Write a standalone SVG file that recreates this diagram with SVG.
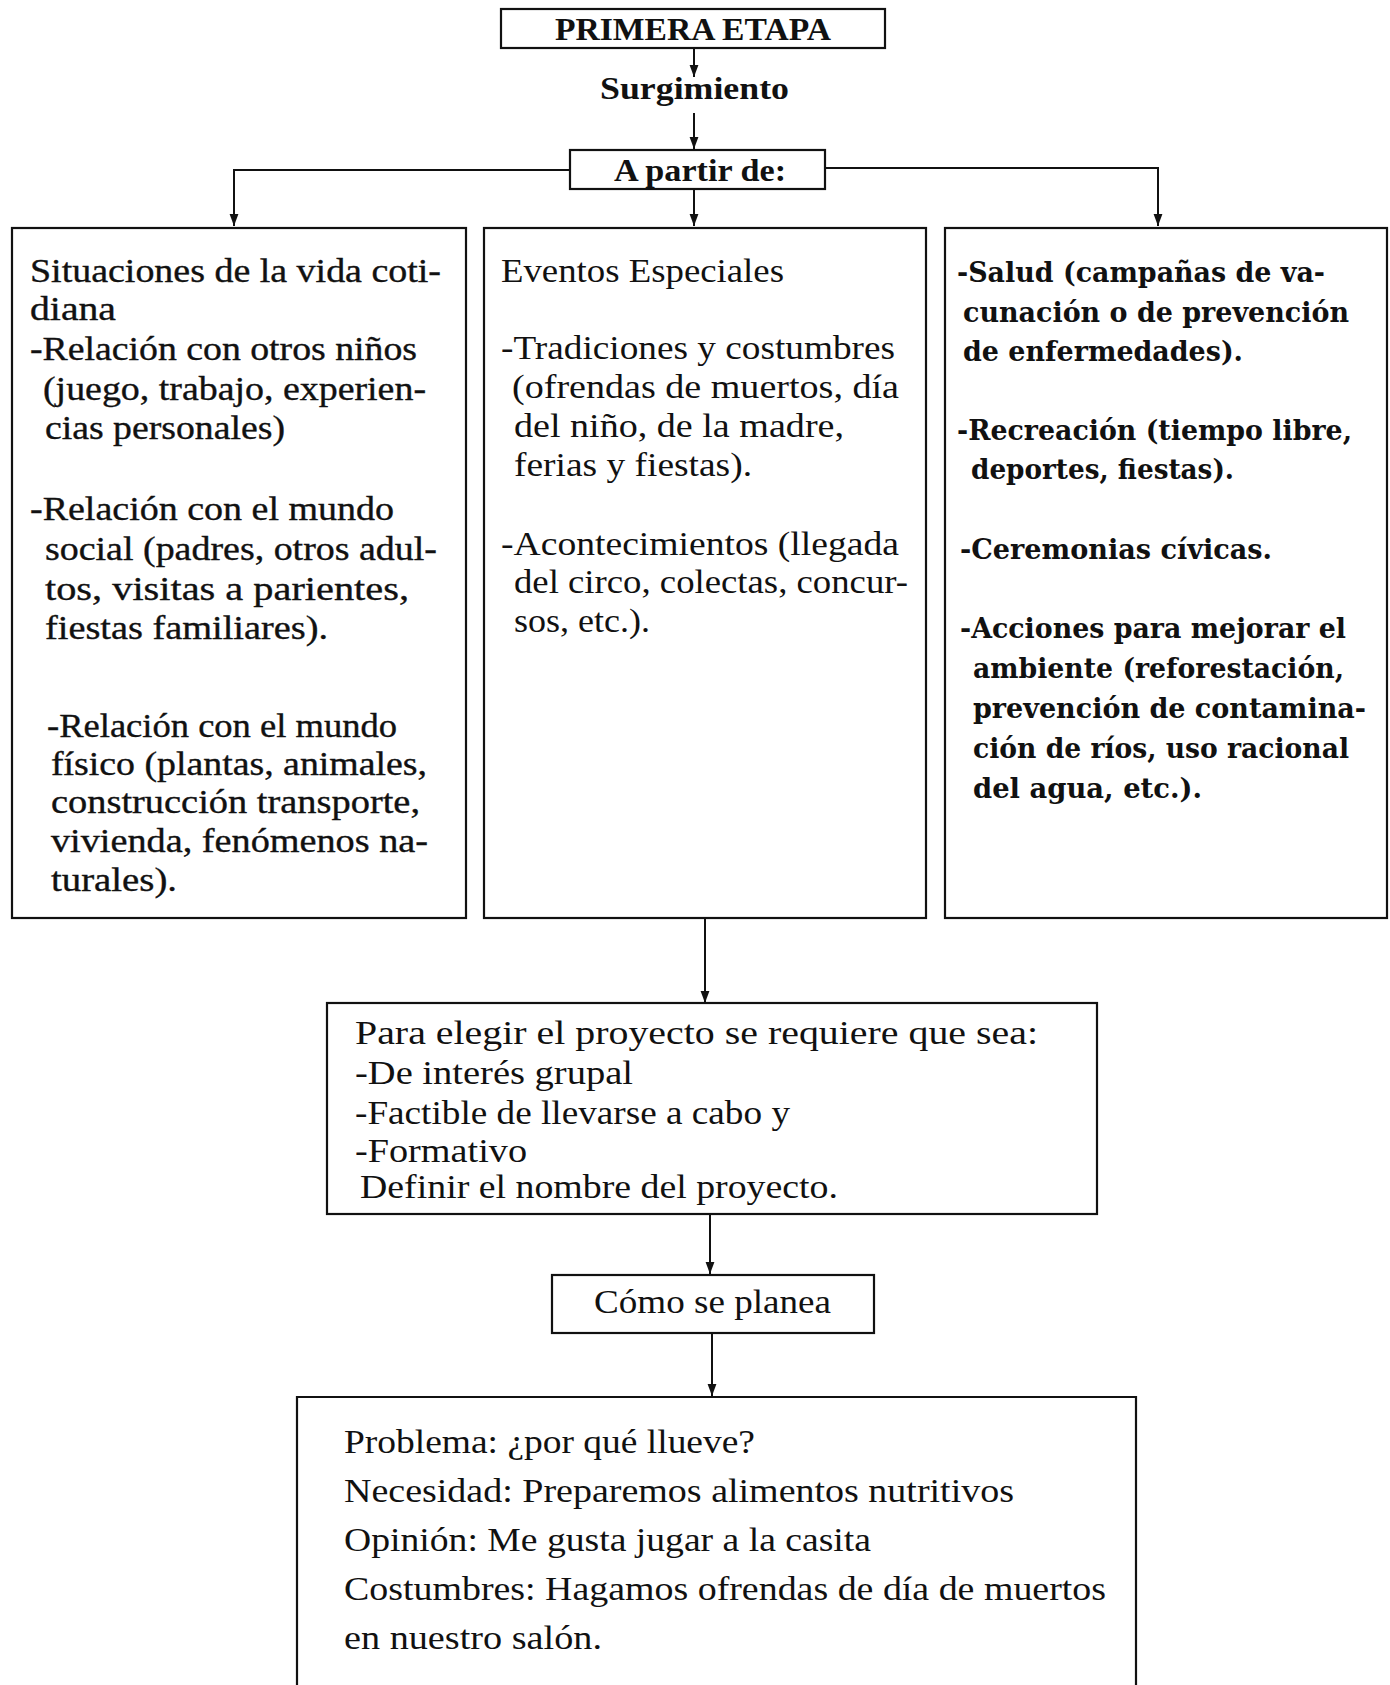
<svg xmlns="http://www.w3.org/2000/svg" width="1390" height="1685" viewBox="0 0 1390 1685">
<style>
.box{fill:none;stroke:#111;stroke-width:2.2}
.c{fill:none;stroke:#111;stroke-width:2}
text{font-family:"Liberation Serif","Times New Roman",serif;fill:#111}
.t{font-size:33px}
.b{font-size:32px;font-weight:bold}
.w{font-family:"DejaVu Serif",serif;font-size:27px;font-weight:bold}
.m{font-size:33px;stroke:#111;stroke-width:0.35}
</style>
<defs>
<marker id="a" markerWidth="12" markerHeight="16" refX="15" refY="5.5" orient="auto" markerUnits="userSpaceOnUse" viewBox="0 0 15 11">
<path d="M0,0 L15,5.5 L0,11 Z" fill="#111"/>
</marker>
</defs>

<g id="connectors">
<line class="c" x1="694" y1="48" x2="694" y2="77" marker-end="url(#a)"/>
<line class="c" x1="694" y1="113" x2="694" y2="149" marker-end="url(#a)"/>
<polyline class="c" points="570,170 234,170 234,226" marker-end="url(#a)"/>
<polyline class="c" points="825,168 1158,168 1158,226" marker-end="url(#a)"/>
<line class="c" x1="694" y1="189" x2="694" y2="226" marker-end="url(#a)"/>
<line class="c" x1="705" y1="918" x2="705" y2="1003" marker-end="url(#a)"/>
<line class="c" x1="710" y1="1213" x2="710" y2="1274" marker-end="url(#a)"/>
<line class="c" x1="712" y1="1333" x2="712" y2="1396" marker-end="url(#a)"/>
</g>

<g id="primera">
<rect class="box" x="501" y="9" width="384" height="39"/>
<text class="b" x="555" y="40" textLength="276" lengthAdjust="spacingAndGlyphs">PRIMERA ETAPA</text>
</g>

<g id="surgimiento">
<text class="b" x="600" y="99" textLength="189" lengthAdjust="spacingAndGlyphs">Surgimiento</text>
</g>

<g id="apartir">
<rect class="box" x="570" y="150" width="255" height="39"/>
<text class="b" x="614" y="181" textLength="172" lengthAdjust="spacingAndGlyphs">A partir de:</text>
</g>

<g id="cotidiana">
<rect class="box" x="12" y="228" width="454" height="690"/>
<text class="m" x="30" y="282" textLength="411" lengthAdjust="spacingAndGlyphs">Situaciones de la vida coti-</text>
<text class="m" x="30" y="320" textLength="86" lengthAdjust="spacingAndGlyphs">diana</text>
<text class="m" x="30" y="360" textLength="387" lengthAdjust="spacingAndGlyphs">-Relación con otros niños</text>
<text class="m" x="43" y="400" textLength="383" lengthAdjust="spacingAndGlyphs">(juego, trabajo, experien-</text>
<text class="m" x="45" y="439" textLength="240" lengthAdjust="spacingAndGlyphs">cias personales)</text>
<text class="m" x="30" y="520" textLength="364" lengthAdjust="spacingAndGlyphs">-Relación con el mundo</text>
<text class="m" x="45" y="560" textLength="392" lengthAdjust="spacingAndGlyphs">social (padres, otros adul-</text>
<text class="m" x="45" y="600" textLength="364" lengthAdjust="spacingAndGlyphs">tos, visitas a parientes,</text>
<text class="m" x="45" y="639" textLength="283" lengthAdjust="spacingAndGlyphs">fiestas familiares).</text>
<text class="m" x="47" y="737" textLength="350" lengthAdjust="spacingAndGlyphs">-Relación con el mundo</text>
<text class="m" x="51" y="775" textLength="376" lengthAdjust="spacingAndGlyphs">físico (plantas, animales,</text>
<text class="m" x="51" y="813" textLength="369" lengthAdjust="spacingAndGlyphs">construcción transporte,</text>
<text class="m" x="51" y="852" textLength="377" lengthAdjust="spacingAndGlyphs">vivienda, fenómenos na-</text>
<text class="m" x="51" y="891" textLength="126" lengthAdjust="spacingAndGlyphs">turales).</text>
</g>

<g id="eventos">
<rect class="box" x="484" y="228" width="442" height="690"/>
<text class="t" x="501" y="282" textLength="283" lengthAdjust="spacingAndGlyphs">Eventos Especiales</text>
<text class="t" x="501" y="359" textLength="394" lengthAdjust="spacingAndGlyphs">-Tradiciones y costumbres</text>
<text class="t" x="512" y="398" textLength="387" lengthAdjust="spacingAndGlyphs">(ofrendas de muertos, día</text>
<text class="t" x="514" y="437" textLength="330" lengthAdjust="spacingAndGlyphs">del niño, de la madre,</text>
<text class="t" x="514" y="476" textLength="238" lengthAdjust="spacingAndGlyphs">ferias y fiestas).</text>
<text class="t" x="501" y="555" textLength="398" lengthAdjust="spacingAndGlyphs">-Acontecimientos (llegada</text>
<text class="t" x="514" y="593" textLength="394" lengthAdjust="spacingAndGlyphs">del circo, colectas, concur-</text>
<text class="t" x="514" y="632" textLength="136" lengthAdjust="spacingAndGlyphs">sos, etc.).</text>
</g>

<g id="otros">
<rect class="box" x="945" y="228" width="442" height="690"/>
<text class="w" x="957" y="282" textLength="368" lengthAdjust="spacingAndGlyphs">-Salud (campañas de va-</text>
<text class="w" x="963" y="322" textLength="386" lengthAdjust="spacingAndGlyphs">cunación o de prevención</text>
<text class="w" x="963" y="361" textLength="280" lengthAdjust="spacingAndGlyphs">de enfermedades).</text>
<text class="w" x="957" y="440" textLength="395" lengthAdjust="spacingAndGlyphs">-Recreación (tiempo libre,</text>
<text class="w" x="971" y="479" textLength="263" lengthAdjust="spacingAndGlyphs">deportes, fiestas).</text>
<text class="w" x="960" y="559" textLength="312" lengthAdjust="spacingAndGlyphs">-Ceremonias cívicas.</text>
<text class="w" x="960" y="638" textLength="386" lengthAdjust="spacingAndGlyphs">-Acciones para mejorar el</text>
<text class="w" x="973" y="678" textLength="371" lengthAdjust="spacingAndGlyphs">ambiente (reforestación,</text>
<text class="w" x="973" y="718" textLength="393" lengthAdjust="spacingAndGlyphs">prevención de contamina-</text>
<text class="w" x="973" y="758" textLength="376" lengthAdjust="spacingAndGlyphs">ción de ríos, uso racional</text>
<text class="w" x="973" y="798" textLength="229" lengthAdjust="spacingAndGlyphs">del agua, etc.).</text>
</g>

<g id="elegir">
<rect class="box" x="327" y="1003" width="770" height="211"/>
<text class="t" x="355" y="1044" textLength="683" lengthAdjust="spacingAndGlyphs">Para elegir el proyecto se requiere que sea:</text>
<text class="t" x="355" y="1084" textLength="278" lengthAdjust="spacingAndGlyphs">-De interés grupal</text>
<text class="t" x="355" y="1124" textLength="435" lengthAdjust="spacingAndGlyphs">-Factible de llevarse a cabo y</text>
<text class="t" x="355" y="1162" textLength="172" lengthAdjust="spacingAndGlyphs">-Formativo</text>
<text class="t" x="360" y="1198" textLength="478" lengthAdjust="spacingAndGlyphs">Definir el nombre del proyecto.</text>
</g>

<g id="como">
<rect class="box" x="552" y="1275" width="322" height="58"/>
<text class="t" x="594" y="1313" textLength="237" lengthAdjust="spacingAndGlyphs">Cómo se planea</text>
</g>

<g id="ejemplos">
<path class="box" d="M297,1700 L297,1397 L1136,1397 L1136,1700"/>
<text class="t" x="344" y="1453" textLength="411" lengthAdjust="spacingAndGlyphs">Problema: ¿por qué llueve?</text>
<text class="t" x="344" y="1502" textLength="670" lengthAdjust="spacingAndGlyphs">Necesidad: Preparemos alimentos nutritivos</text>
<text class="t" x="344" y="1551" textLength="527" lengthAdjust="spacingAndGlyphs">Opinión: Me gusta jugar a la casita</text>
<text class="t" x="344" y="1600" textLength="762" lengthAdjust="spacingAndGlyphs">Costumbres: Hagamos ofrendas de día de muertos</text>
<text class="t" x="344" y="1649" textLength="258" lengthAdjust="spacingAndGlyphs">en nuestro salón.</text>
</g>
</svg>
